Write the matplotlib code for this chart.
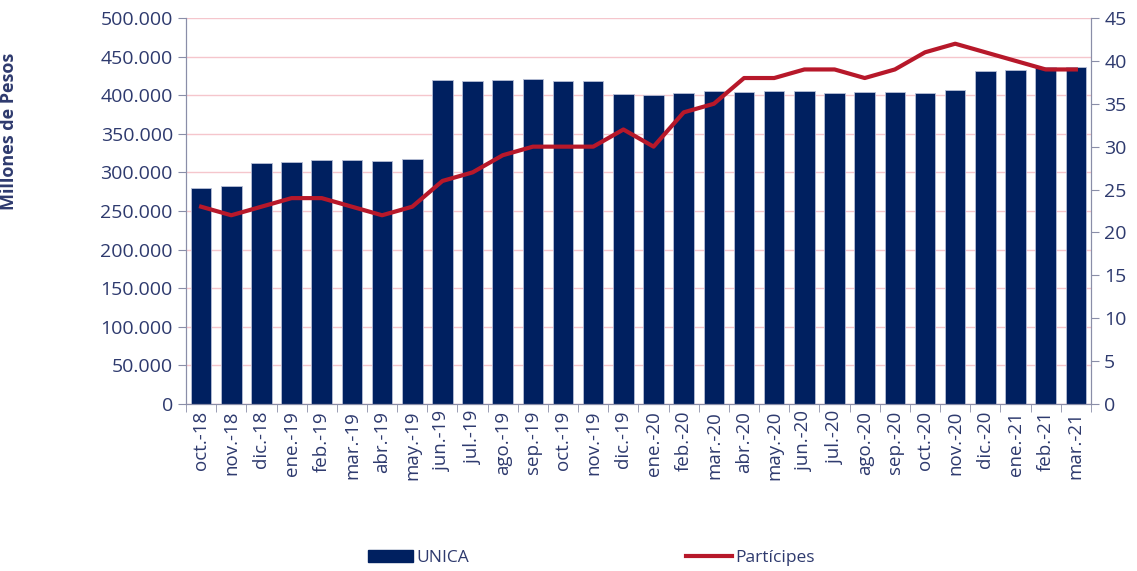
import matplotlib
matplotlib.use('Agg')
import matplotlib.pyplot as plt
import matplotlib.ticker as mticker
from matplotlib.patches import Patch
from matplotlib.lines import Line2D
import numpy as np

plt.rcParams['font.family'] = ['Open Sans', 'DejaVu Sans']

# data
months = ['oct.-18', 'nov.-18', 'dic.-18', 'ene.-19', 'feb.-19', 'mar.-19', 'abr.-19', 'may.-19',
          'jun.-19', 'jul.-19', 'ago.-19', 'sep.-19', 'oct.-19', 'nov.-19', 'dic.-19', 'ene.-20',
          'feb.-20', 'mar.-20', 'abr.-20', 'may.-20', 'jun.-20', 'jul.-20', 'ago.-20', 'sep.-20',
          'oct.-20', 'nov.-20', 'dic.-20', 'ene.-21', 'feb.-21', 'mar.-21']
unica = [280000, 282000, 312000, 313500, 316000, 316000, 315000, 317000,
         420000, 418000, 420000, 421000, 418000, 419000, 401500, 400000,
         403000, 406000, 404000, 406000, 405000, 403000, 404000, 404000,
         403000, 407000, 431000, 432000, 436000, 436000]
participes = [23, 22, 23, 24, 24, 23, 22, 23, 26, 27, 29, 30, 30, 30, 32, 30,
              34, 35, 38, 38, 39, 39, 38, 39, 41, 42, 41, 40, 39, 39]

navy = '#002060'
red = '#b7182a'
txt = '#2e3a6e'
grey = '#8a8ea8'

fig = plt.figure(figsize=(11.37, 5.71), dpi=100)
ax = fig.add_axes([0.1636, 0.2925, 0.7959, 0.676])
x = np.arange(len(months))

ax.bar(x, unica, width=0.68, color=navy, edgecolor='#b8bfd6', linewidth=0.6, zorder=2)
ax.set_xlim(-0.5, len(months) - 0.5)
ax.set_ylim(0, 500000)
ax.set_yticks(np.arange(0, 500001, 50000))
ax.yaxis.set_major_formatter(mticker.FuncFormatter(lambda v, p: f'{int(v):,}'.replace(',', '.')))
ax.grid(axis='y', color='#f5c6cc', linewidth=1, zorder=0)
ax.set_axisbelow(True)

ax.set_xticks(x)
ax.set_xticklabels(months, rotation=90, fontsize=13.5, color=txt)
ax.set_xticks(np.arange(-0.5, len(months), 1), minor=True)
ax.tick_params(axis='x', which='major', length=0, pad=5)
ax.tick_params(axis='x', which='minor', length=6, color=grey, direction='out')
ax.tick_params(axis='y', labelsize=14, labelcolor=txt, color=grey, length=6)
ax.set_ylabel('Millones de Pesos', fontsize=13, fontweight='bold', color=txt)
ax.yaxis.set_label_coords(-0.186, 0.705)

for s in ['top']:
    ax.spines[s].set_visible(False)
for s in ['left', 'bottom', 'right']:
    ax.spines[s].set_color(grey)

ax2 = ax.twinx()
ax2.plot(x, participes, color=red, linewidth=3, zorder=3)
ax2.set_ylim(0, 45)
ax2.set_yticks(np.arange(0, 46, 5))
ax2.tick_params(axis='y', labelsize=14, labelcolor=txt, color=grey, length=6)
ax2.spines['top'].set_visible(False)
for s in ['left', 'bottom', 'right']:
    ax2.spines[s].set_color(grey)

handles = [Patch(facecolor=navy, edgecolor=navy), Line2D([0], [0], color=red, linewidth=3)]
fig.legend(handles, ['UNICA', 'Partícipes'], loc='center', bbox_to_anchor=(0.52, 0.023),
           ncol=2, frameon=False, fontsize=12.5, handlelength=2.6, handletextpad=0.2,
           columnspacing=12.5, labelcolor=txt)

fig.savefig('out.png', dpi=100)
